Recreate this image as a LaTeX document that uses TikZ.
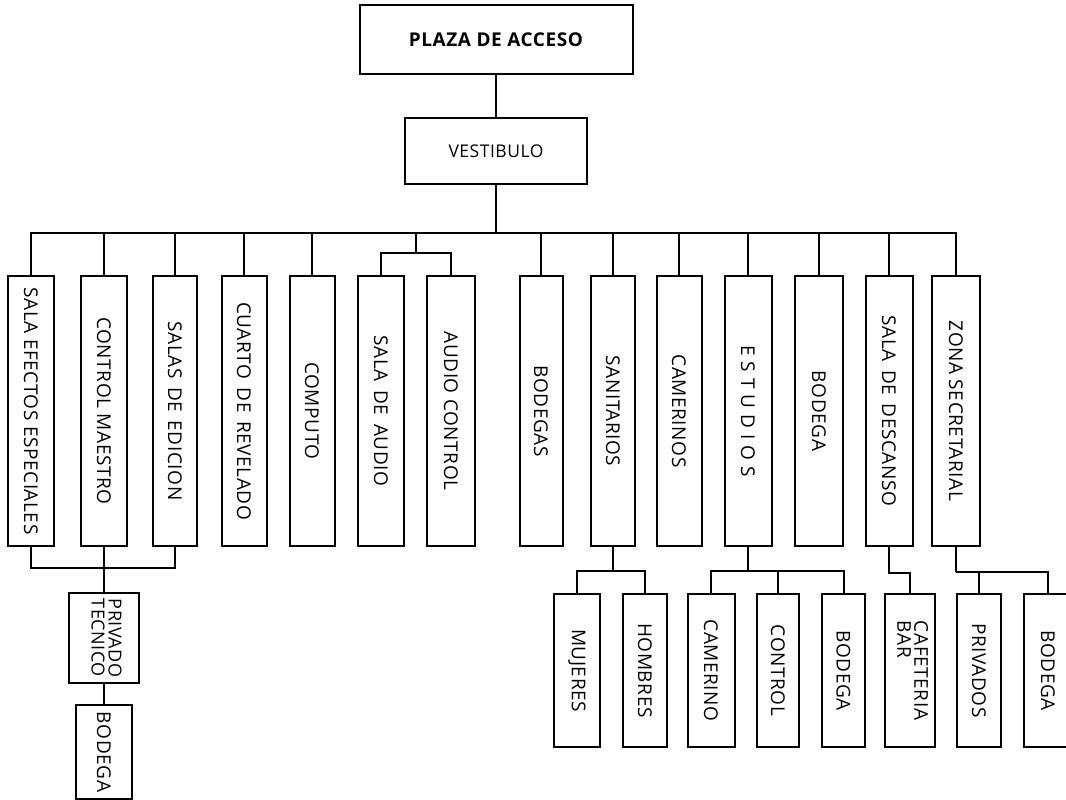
\documentclass[tikz,border=0pt]{standalone}
\usepackage{fontspec}
\usepackage{graphicx}
\setmainfont{Open Sans}[LetterSpace=3]
\newcommand\vtxt[1]{\rotatebox{-90}{#1}}
\newcommand\wgap{\hspace{0.45em}}
\newcommand\lsp{\hspace{6pt}}
\tikzset{
  wire/.style={line width=2pt},
  vbox/.style={draw, line width=2pt, inner sep=0pt, minimum width=#1,
    minimum height=270pt, font=\fontsize{19}{21}\selectfont},
  lbox/.style={draw, line width=2pt, inner sep=0pt, minimum width=#1,
    minimum height=153pt, font=\fontsize{19}{21}\selectfont},
  hbox/.style={draw, line width=2pt, inner sep=0pt}
}
\begin{document}
\begin{tikzpicture}[x=1pt,y=-1pt]
\useasboundingbox (0,0) rectangle (1066,800);

% entrance and lobby
\node[hbox, minimum width=273pt, minimum height=69pt,
  font=\bfseries\fontsize{19}{21}\selectfont] (plaza) at (496,39.5) {PLAZA DE ACCESO};
\node[hbox, minimum width=182pt, minimum height=66pt,
  font=\fontsize{17.5}{21}\selectfont] (vest) at (496,151) {VESTIBULO};

% first level of spaces
\node[vbox=46pt] (c1)  at (31,411)    {\vtxt{SALA EFECTOS ESPECIALES}};
\node[vbox=46pt] (c2)  at (104,411)   {\vtxt{CONTROL MAESTRO}};
\node[vbox=44pt] (c3)  at (175,411)   {\vtxt{SALAS\wgap DE\wgap EDICION}};
\node[vbox=45pt] (c4)  at (244,411)   {\vtxt{CUARTO\wgap DE\wgap REVELADO}};
\node[vbox=45pt] (c5)  at (312,411)   {\vtxt{COMPUTO}};
\node[vbox=46pt] (c6)  at (381,411)   {\vtxt{SALA\wgap DE\wgap AUDIO}};
\node[vbox=48pt] (c7)  at (451,411)   {\vtxt{AUDIO CONTROL}};
\node[vbox=43pt] (c8)  at (541,411)   {\vtxt{BODEGAS}};
\node[vbox=44pt] (c9)  at (613,411)   {\vtxt{SANITARIOS}};
\node[vbox=45pt] (c10) at (679,411)   {\vtxt{CAMERINOS}};
\node[vbox=47pt] (c11) at (748,411)   {\vtxt{E\lsp S\lsp T\lsp U\lsp D\lsp I\lsp O\lsp S}};
\node[vbox=48pt] (c12) at (819,411)   {\vtxt{BODEGA}};
\node[vbox=47pt] (c13) at (889,411)   {\vtxt{SALA\wgap DE\wgap DESCANSO}};
\node[vbox=48pt] (c14) at (956,411)   {\vtxt{ZONA SECRETARIAL}};

% second level
\node[hbox, minimum width=70pt, minimum height=90pt, font=\fontsize{18}{20}\selectfont]
  (priv) at (104,638) {\vtxt{\begin{tabular}{@{}l@{}}PRIVADO\\[-3pt]TECNICO\end{tabular}}};
\node[hbox, minimum width=56pt, minimum height=94pt, font=\fontsize{19}{21}\selectfont]
  (bodL) at (104,752) {\vtxt{BODEGA}};

\node[lbox=46pt] (muj)  at (577,670.5)  {\vtxt{MUJERES}};
\node[lbox=44pt] (hom)  at (645,670.5)  {\vtxt{HOMBRES}};
\node[lbox=47pt] (cam)  at (711,670.5)  {\vtxt{CAMERINO}};
\node[lbox=42pt] (ctl)  at (778,670.5)  {\vtxt{CONTROL}};
\node[lbox=43pt] (bodE) at (843.5,670.5) {\vtxt{BODEGA}};
\node[lbox=50pt] (caf)  at (910,670.5)  {\vtxt{\begin{tabular}{@{}l@{}}CAFETERIA\\[-4pt]BAR\end{tabular}}};
\node[lbox=44pt] (prv)  at (979,670.5)  {\vtxt{PRIVADOS}};
\node[lbox=48pt] (bodZ) at (1048,670.5) {\vtxt{BODEGA}};

% junction points of the tree
\coordinate (bus)  at (496,233);
\coordinate (abus) at (416,253);
\coordinate (lbus) at (104,568);
\coordinate (sbus) at (613,571);
\coordinate (ebus) at (748,571);
\coordinate (zbus) at (956,572);

% connectors
\draw[wire] (plaza) -- (vest);
\draw[wire] (vest) -- (bus);
\foreach \n in {c1,c2,c3,c4,c5,c8,c9,c10,c11,c12,c13,c14}
  \draw[wire] (bus) -| (\n.north);
\draw[wire] (bus) -| (abus);
\draw[wire] (abus) -| (c6.north);
\draw[wire] (abus) -| (c7.north);

\draw[wire] (c1.south) |- (lbus);
\draw[wire] (c3.south) |- (lbus);
\draw[wire] (c2.south) -- (priv.north);
\draw[wire] (priv) -- (bodL);

\draw[wire] (c9.south) -- (sbus);
\draw[wire] (sbus) -| (muj.north);
\draw[wire] (sbus) -| (hom.north);

\draw[wire] (c11.south) -- (ebus);
\draw[wire] (ebus) -| (cam.north);
\draw[wire] (ebus) -| (ctl.north);
\draw[wire] (ebus) -| (bodE.north);

\draw[wire] (c13.south) -- ++(0,26) -| (caf.north);

\draw[wire] (c14.south) -- (zbus);
\draw[wire] (zbus) -| (prv.north);
\draw[wire] (zbus) -| (bodZ.north);
\end{tikzpicture}
\end{document}
